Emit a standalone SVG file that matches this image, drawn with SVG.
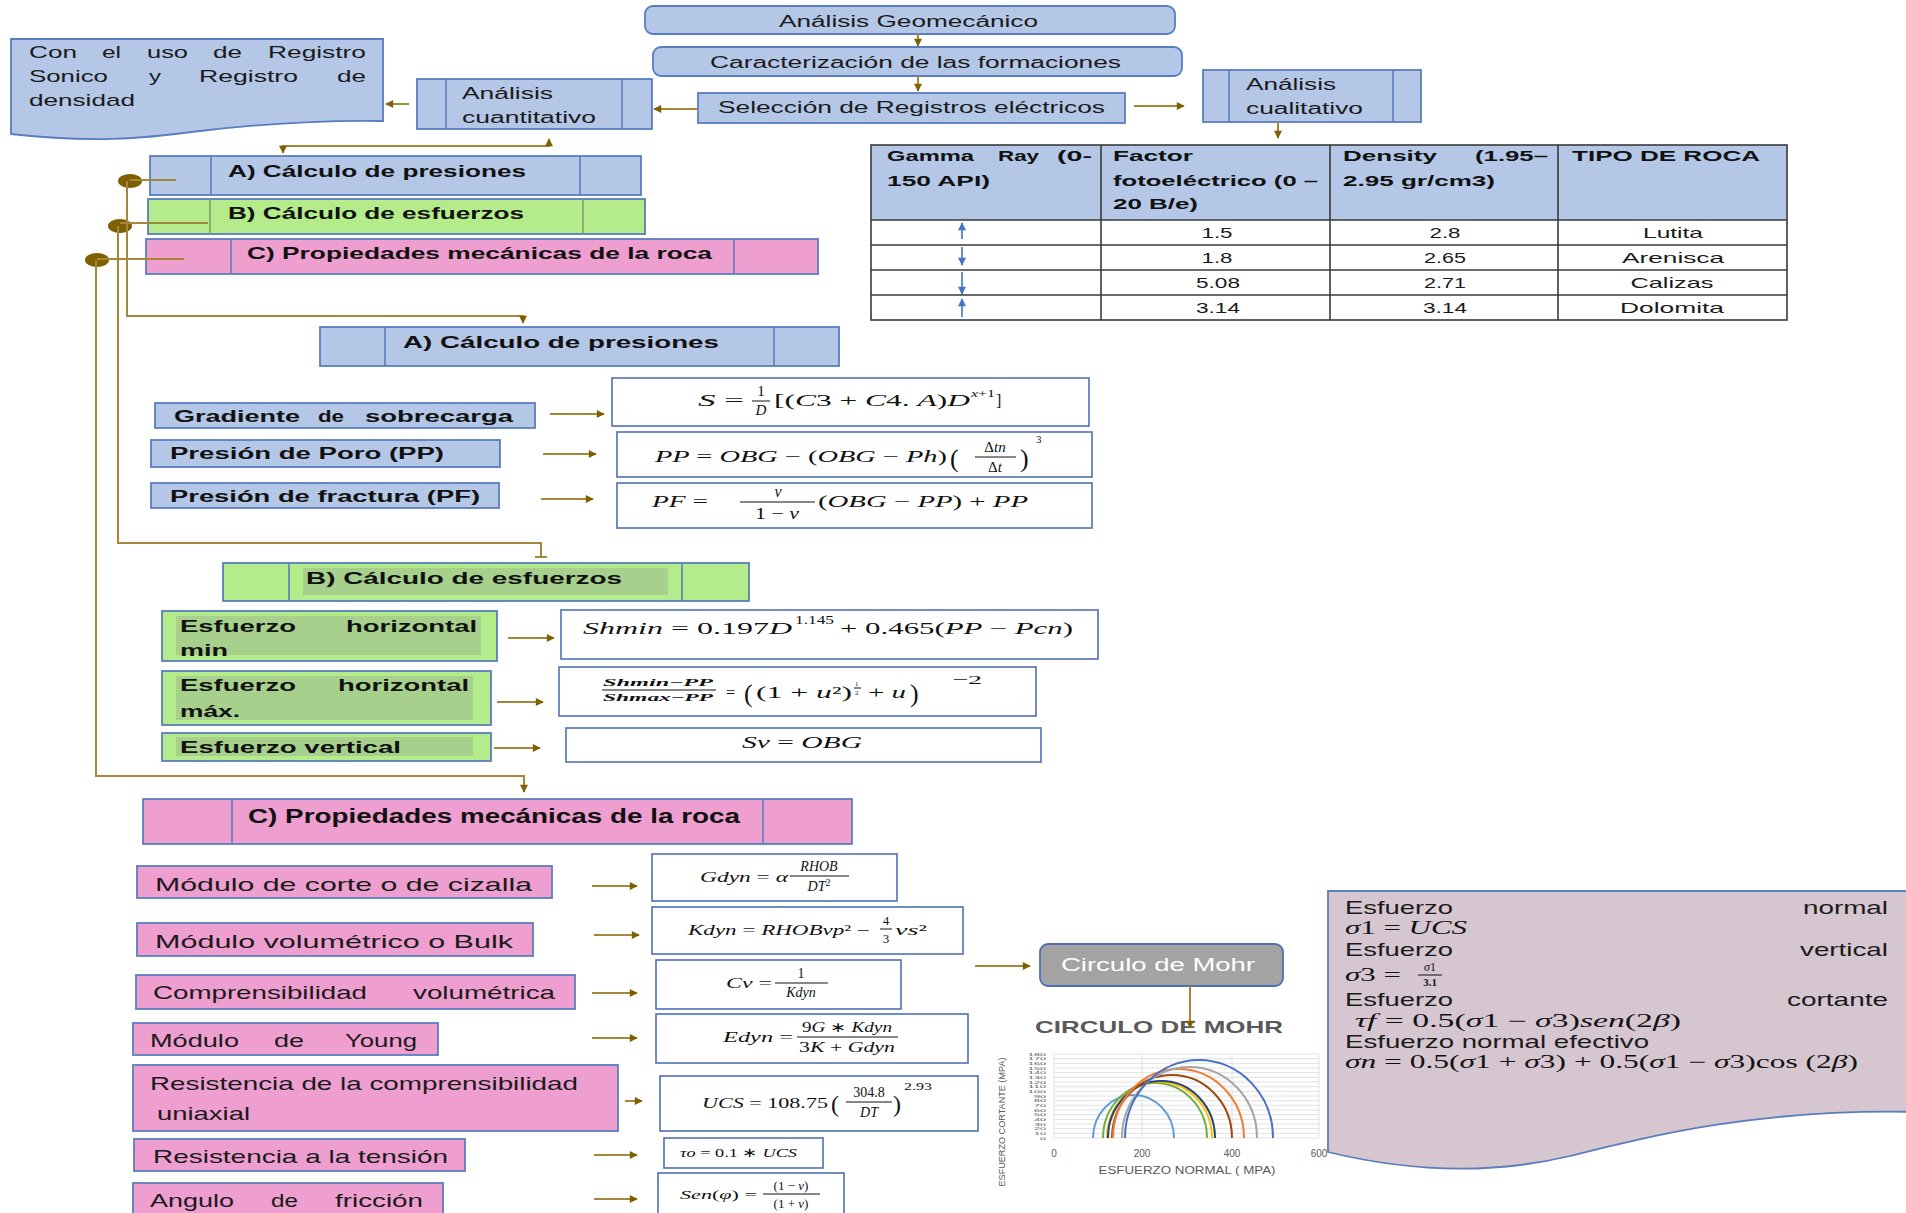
<svg xmlns="http://www.w3.org/2000/svg" width="1906" height="1213" viewBox="0 0 1906 1213" font-size="15">
<style>
.bb{fill:#b4c7e7;stroke:#5a7dbf;stroke-width:1.8}
.gb{fill:#b4eb8b;stroke:#5a7dbf;stroke-width:1.8}
.gh{fill:#a8d08d;stroke:none}
.pb{fill:#ee9fd0;stroke:#5a7dbf;stroke-width:1.8}
.fb{fill:#ffffff;stroke:#4f6fb5;stroke-width:1.6}
.sep{stroke:#5a7dbf;stroke-width:1.6}
.t{font-family:"Liberation Sans",Arial,sans-serif;fill:#1a1a1a;dominant-baseline:central}
.tb{font-family:"Liberation Sans",Arial,sans-serif;font-weight:bold;fill:#111;dominant-baseline:central}
.m{font-family:"Liberation Serif","Times New Roman",serif;font-style:italic;fill:#111}
.u{font-style:normal}
.c{stroke:#a5873a;stroke-width:2;fill:none}
.fl{stroke:#111;stroke-width:1}
.grid{stroke:#dedede;stroke-width:0.9}
.ax{font-family:"Liberation Sans",Arial,sans-serif;fill:#595959}
.arc{fill:none;stroke-width:2}
</style>
<defs>
<marker id="ah" viewBox="0 0 10 10" refX="9" refY="5" markerWidth="9" markerHeight="8" markerUnits="userSpaceOnUse" orient="auto-start-reverse">
<path d="M0,0 L10,5 L0,10 Z" fill="#7f6000"/>
</marker>
<marker id="ab" viewBox="0 0 10 10" refX="9" refY="5" markerWidth="9" markerHeight="8" markerUnits="userSpaceOnUse" orient="auto">
<path d="M0,0 L10,5 L0,10 Z" fill="#4472c4"/>
</marker>
</defs>

<!-- Top flow -->
<g id="n-geomecanico">
<rect x="645" y="6" width="530" height="28" rx="8" class="bb"/>
<text class="t" font-size="16" x="779" y="21" textLength="259" lengthAdjust="spacingAndGlyphs">Análisis Geomecánico</text>
</g>
<g id="n-caracterizacion">
<rect x="653" y="47" width="529" height="29" rx="8" class="bb"/>
<text class="t" font-size="16" x="710" y="62" textLength="411" lengthAdjust="spacingAndGlyphs">Caracterización de las formaciones</text>
</g>
<g id="n-seleccion">
<rect x="698" y="93" width="427" height="30" class="bb"/>
<text class="t" font-size="16" x="718" y="107" textLength="387" lengthAdjust="spacingAndGlyphs">Selección de Registros eléctricos</text>
</g>
<g id="n-cualitativo">
<rect x="1203" y="70" width="218" height="52" class="bb"/>
<line x1="1229" y1="70" x2="1229" y2="122" class="sep"/>
<line x1="1393" y1="70" x2="1393" y2="122" class="sep"/>
<text class="t" font-size="16" x="1246" y="84" textLength="90" lengthAdjust="spacingAndGlyphs">Análisis</text>
<text class="t" font-size="16" x="1246" y="108" textLength="117" lengthAdjust="spacingAndGlyphs">cualitativo</text>
</g>
<g id="n-cuantitativo">
<rect x="417" y="79" width="235" height="50" class="bb"/>
<line x1="446" y1="79" x2="446" y2="129" class="sep"/>
<line x1="622" y1="79" x2="622" y2="129" class="sep"/>
<text class="t" font-size="16" x="462" y="93" textLength="91" lengthAdjust="spacingAndGlyphs">Análisis</text>
<text class="t" font-size="16" x="462" y="117" textLength="134" lengthAdjust="spacingAndGlyphs">cuantitativo</text>
</g>
<g id="n-registro-doc" font-size="17">
<path d="M11,39 H383 V121 C320,120 260,124 200,131 C140,139 90,143 11,134 Z" class="bb"/>
<text class="t" x="29" y="52" textLength="48" lengthAdjust="spacingAndGlyphs">Con</text>
<text class="t" x="102" y="52" textLength="19" lengthAdjust="spacingAndGlyphs">el</text>
<text class="t" x="147" y="52" textLength="41" lengthAdjust="spacingAndGlyphs">uso</text>
<text class="t" x="213" y="52" textLength="29" lengthAdjust="spacingAndGlyphs">de</text>
<text class="t" x="268" y="52" textLength="98" lengthAdjust="spacingAndGlyphs">Registro</text>
<text class="t" x="29" y="76" textLength="79" lengthAdjust="spacingAndGlyphs">Sonico</text>
<text class="t" x="149" y="76" textLength="12" lengthAdjust="spacingAndGlyphs">y</text>
<text class="t" x="199" y="76" textLength="99" lengthAdjust="spacingAndGlyphs">Registro</text>
<text class="t" x="337" y="76" textLength="29" lengthAdjust="spacingAndGlyphs">de</text>
<text class="t" x="29" y="100" textLength="106" lengthAdjust="spacingAndGlyphs">densidad</text>
</g>

<!-- Table -->
<g id="n-tabla">
<rect x="871" y="145" width="916" height="75" fill="#b4c7e7"/>
<rect x="871" y="220" width="916" height="100" fill="#ffffff"/>
<g stroke="#3a3a3a" stroke-width="1.6" fill="none">
<rect x="871" y="145" width="916" height="175"/>
<line x1="1101" y1="145" x2="1101" y2="320"/>
<line x1="1330" y1="145" x2="1330" y2="320"/>
<line x1="1558" y1="145" x2="1558" y2="320"/>
<line x1="871" y1="220" x2="1787" y2="220"/>
<line x1="871" y1="245" x2="1787" y2="245"/>
<line x1="871" y1="270" x2="1787" y2="270"/>
<line x1="871" y1="295" x2="1787" y2="295"/>
</g>
<g font-size="14">
<text class="tb" x="887" y="156" textLength="87" lengthAdjust="spacingAndGlyphs">Gamma</text>
<text class="tb" x="998" y="156" textLength="41" lengthAdjust="spacingAndGlyphs">Ray</text>
<text class="tb" x="1057" y="156" textLength="35" lengthAdjust="spacingAndGlyphs">(0-</text>
<text class="tb" x="887" y="181" textLength="103" lengthAdjust="spacingAndGlyphs">150 API)</text>
<text class="tb" x="1113" y="156" textLength="80" lengthAdjust="spacingAndGlyphs">Factor</text>
<text class="tb" x="1113" y="181" textLength="205" lengthAdjust="spacingAndGlyphs">fotoeléctrico (0 –</text>
<text class="tb" x="1113" y="204" textLength="85" lengthAdjust="spacingAndGlyphs">20 B/e)</text>
<text class="tb" x="1343" y="156" textLength="94" lengthAdjust="spacingAndGlyphs">Density</text>
<text class="tb" x="1475" y="156" textLength="73" lengthAdjust="spacingAndGlyphs">(1.95–</text>
<text class="tb" x="1343" y="181" textLength="152" lengthAdjust="spacingAndGlyphs">2.95 gr/cm3)</text>
<text class="tb" x="1572" y="156" textLength="188" lengthAdjust="spacingAndGlyphs">TIPO DE ROCA</text>
</g>
<g text-anchor="middle" font-size="15">
<text class="t" x="1217" y="232" textLength="31" lengthAdjust="spacingAndGlyphs">1.5</text>
<text class="t" x="1445" y="232" textLength="31" lengthAdjust="spacingAndGlyphs">2.8</text>
<text class="t" x="1673" y="232" textLength="60" lengthAdjust="spacingAndGlyphs">Lutita</text>
<text class="t" x="1217" y="257" textLength="31" lengthAdjust="spacingAndGlyphs">1.8</text>
<text class="t" x="1445" y="257" textLength="42" lengthAdjust="spacingAndGlyphs">2.65</text>
<text class="t" x="1673" y="257" textLength="102" lengthAdjust="spacingAndGlyphs">Arenisca</text>
<text class="t" x="1218" y="282" textLength="44" lengthAdjust="spacingAndGlyphs">5.08</text>
<text class="t" x="1445" y="282" textLength="42" lengthAdjust="spacingAndGlyphs">2.71</text>
<text class="t" x="1672" y="282" textLength="83" lengthAdjust="spacingAndGlyphs">Calizas</text>
<text class="t" x="1218" y="307" textLength="44" lengthAdjust="spacingAndGlyphs">3.14</text>
<text class="t" x="1445" y="307" textLength="44" lengthAdjust="spacingAndGlyphs">3.14</text>
<text class="t" x="1672" y="307" textLength="104" lengthAdjust="spacingAndGlyphs">Dolomita</text>
</g>
<g stroke="#4472c4" stroke-width="1.6">
<line x1="962" y1="239" x2="962" y2="223" marker-end="url(#ab)"/>
<line x1="962" y1="247" x2="962" y2="265" marker-end="url(#ab)"/>
<line x1="962" y1="272" x2="962" y2="294" marker-end="url(#ab)"/>
<line x1="962" y1="317" x2="962" y2="299" marker-end="url(#ab)"/>
</g>
</g>

<!-- Top A/B/C bars -->
<g id="n-a-top">
<rect x="150" y="156" width="491" height="39" class="bb"/>
<line x1="211" y1="156" x2="211" y2="195" class="sep"/>
<line x1="580" y1="156" x2="580" y2="195" class="sep"/>
<text class="tb" font-size="17" x="228" y="171" textLength="298" lengthAdjust="spacingAndGlyphs">A) Cálculo de presiones</text>
</g>
<g id="n-b-top">
<rect x="148" y="199" width="497" height="35" class="gb"/>
<line x1="210" y1="199" x2="210" y2="234" class="sep" style="stroke:#7da36a"/>
<line x1="583" y1="199" x2="583" y2="234" class="sep" style="stroke:#7da36a"/>
<text class="tb" font-size="17" x="228" y="213" textLength="296" lengthAdjust="spacingAndGlyphs">B) Cálculo de esfuerzos</text>
</g>
<g id="n-c-top">
<rect x="146" y="239" width="672" height="35" class="pb"/>
<line x1="231" y1="239" x2="231" y2="274" class="sep"/>
<line x1="734" y1="239" x2="734" y2="274" class="sep"/>
<text class="tb" font-size="17" x="247" y="253" textLength="465" lengthAdjust="spacingAndGlyphs">C) Propiedades mecánicas de la roca</text>
</g>

<!-- A detail -->
<g id="n-a-detalle">
<rect x="320" y="327" width="519" height="39" class="bb"/>
<line x1="385" y1="327" x2="385" y2="366" class="sep"/>
<line x1="774" y1="327" x2="774" y2="366" class="sep"/>
<text class="tb" font-size="17" x="403" y="342" textLength="316" lengthAdjust="spacingAndGlyphs">A) Cálculo de presiones</text>
</g>
<g id="n-gradiente" font-size="16">
<rect x="155" y="403" width="380" height="25" class="bb"/>
<text class="tb" x="174" y="416" textLength="126" lengthAdjust="spacingAndGlyphs">Gradiente</text>
<text class="tb" x="318" y="416" textLength="26" lengthAdjust="spacingAndGlyphs">de</text>
<text class="tb" x="365" y="416" textLength="148" lengthAdjust="spacingAndGlyphs">sobrecarga</text>
</g>
<g id="n-poro" font-size="16">
<rect x="151" y="440" width="349" height="27" class="bb"/>
<text class="tb" x="170" y="453" textLength="274" lengthAdjust="spacingAndGlyphs">Presión de Poro (PP)</text>
</g>
<g id="n-fractura" font-size="16">
<rect x="151" y="483" width="348" height="25" class="bb"/>
<text class="tb" x="170" y="496" textLength="310" lengthAdjust="spacingAndGlyphs">Presión de fractura (PF)</text>
</g>
<g id="f-s" font-size="16">
<rect x="612" y="378" width="477" height="48" class="fb"/>
<text class="m" x="698" y="406" textLength="46" lengthAdjust="spacingAndGlyphs">S <tspan class="u">=</tspan></text>
<text class="m u" x="761" y="396" text-anchor="middle" font-size="15">1</text>
<line x1="752" y1="401" x2="770" y2="401" class="fl"/>
<text class="m" x="761" y="415" text-anchor="middle" font-size="15">D</text>
<text class="m" x="774" y="406" textLength="196" lengthAdjust="spacingAndGlyphs"><tspan class="u">[(</tspan>C<tspan class="u">3 + </tspan>C<tspan class="u">4. </tspan>A<tspan class="u">)</tspan>D</text>
<text class="m" x="971" y="397" font-size="11" textLength="24" lengthAdjust="spacingAndGlyphs">x<tspan class="u">+1</tspan></text>
<text class="m u" x="996" y="406">]</text>
</g>
<g id="f-pp" font-size="16">
<rect x="617" y="432" width="475" height="45" class="fb"/>
<text class="m" x="655" y="462" textLength="292" lengthAdjust="spacingAndGlyphs">PP <tspan class="u">=</tspan> OBG <tspan class="u">− (</tspan>OBG <tspan class="u">−</tspan> Ph<tspan class="u">)</tspan></text>
<text class="m u" x="950" y="467" font-size="26">(</text>
<text class="m" x="995" y="452" text-anchor="middle" font-size="15"><tspan class="u">Δ</tspan>tn</text>
<line x1="975" y1="457" x2="1016" y2="457" class="fl"/>
<text class="m" x="995" y="472" text-anchor="middle" font-size="15"><tspan class="u">Δ</tspan>t</text>
<text class="m u" x="1020" y="467" font-size="26">)</text>
<text class="m u" x="1036" y="443" font-size="11">3</text>
</g>
<g id="f-pf" font-size="16">
<rect x="617" y="483" width="475" height="45" class="fb"/>
<text class="m" x="652" y="507" textLength="56" lengthAdjust="spacingAndGlyphs">PF <tspan class="u">=</tspan></text>
<text class="m" x="778" y="497" text-anchor="middle">v</text>
<line x1="740" y1="502" x2="815" y2="502" class="fl"/>
<text class="m" x="777" y="519" text-anchor="middle" textLength="44" lengthAdjust="spacingAndGlyphs"><tspan class="u">1 − </tspan>v</text>
<text class="m" x="818" y="507" textLength="210" lengthAdjust="spacingAndGlyphs"><tspan class="u">(</tspan>OBG <tspan class="u">−</tspan> PP<tspan class="u">) + </tspan>PP</text>
</g>

<!-- B detail -->
<g id="n-b-detalle">
<rect x="223" y="563" width="526" height="38" class="gb"/>
<rect x="303" y="568" width="365" height="27" class="gh"/>
<line x1="289" y1="563" x2="289" y2="601" class="sep"/>
<line x1="682" y1="563" x2="682" y2="601" class="sep"/>
<text class="tb" font-size="17" x="306" y="578" textLength="316" lengthAdjust="spacingAndGlyphs">B) Cálculo de esfuerzos</text>
</g>
<g id="n-hmin" font-size="17">
<rect x="162" y="611" width="335" height="50" class="gb"/>
<rect x="176" y="616" width="305" height="39" class="gh"/>
<text class="tb" x="180" y="626" textLength="116" lengthAdjust="spacingAndGlyphs">Esfuerzo</text>
<text class="tb" x="346" y="626" textLength="131" lengthAdjust="spacingAndGlyphs">horizontal</text>
<text class="tb" x="180" y="650" textLength="48" lengthAdjust="spacingAndGlyphs">min</text>
</g>
<g id="n-hmax" font-size="17">
<rect x="162" y="671" width="329" height="54" class="gb"/>
<rect x="176" y="676" width="297" height="44" class="gh"/>
<text class="tb" x="180" y="685" textLength="116" lengthAdjust="spacingAndGlyphs">Esfuerzo</text>
<text class="tb" x="338" y="685" textLength="131" lengthAdjust="spacingAndGlyphs">horizontal</text>
<text class="tb" x="180" y="711" textLength="60" lengthAdjust="spacingAndGlyphs">máx.</text>
</g>
<g id="n-vertical" font-size="17">
<rect x="162" y="733" width="329" height="28" class="gb"/>
<rect x="176" y="737" width="297" height="19" class="gh"/>
<text class="tb" x="180" y="747" textLength="221" lengthAdjust="spacingAndGlyphs">Esfuerzo vertical</text>
</g>
<g id="f-shmin" font-size="17">
<rect x="561" y="610" width="537" height="49" class="fb"/>
<text class="m" x="583" y="634" textLength="209" lengthAdjust="spacingAndGlyphs">Shmin <tspan class="u">= 0.197</tspan>D</text>
<text class="m u" x="795" y="624" font-size="12" textLength="39" lengthAdjust="spacingAndGlyphs">1.145</text>
<text class="m" x="840" y="634" textLength="233" lengthAdjust="spacingAndGlyphs"><tspan class="u">+ 0.465(</tspan>PP <tspan class="u">−</tspan> Pcn<tspan class="u">)</tspan></text>
</g>
<g id="f-ratio" font-size="16">
<rect x="559" y="667" width="477" height="49" class="fb"/>
<text class="m" x="658" y="686" text-anchor="middle" font-size="11" font-weight="bold" textLength="110" lengthAdjust="spacingAndGlyphs">Shmin<tspan class="u">−</tspan>PP</text>
<line x1="602" y1="690" x2="716" y2="690" class="fl"/>
<text class="m" x="658" y="701" text-anchor="middle" font-size="11" font-weight="bold" textLength="110" lengthAdjust="spacingAndGlyphs">Shmax<tspan class="u">−</tspan>PP</text>
<text class="m u" x="726" y="698">=</text>
<text class="m u" x="744" y="702" font-size="26">(</text>
<text class="m" x="756" y="698" textLength="96" lengthAdjust="spacingAndGlyphs"><tspan class="u">(1 + </tspan>u<tspan class="u">²)</tspan></text>
<text class="m u" x="855" y="686" font-size="7">1</text>
<line x1="854" y1="688" x2="861" y2="688" class="fl" stroke-width="0.6"/>
<text class="m u" x="855" y="695" font-size="7">2</text>
<text class="m" x="868" y="698" textLength="38" lengthAdjust="spacingAndGlyphs"><tspan class="u">+ </tspan>u</text>
<text class="m u" x="910" y="702" font-size="26">)</text>
<text class="m u" x="952" y="684" font-size="13" textLength="30" lengthAdjust="spacingAndGlyphs">−2</text>
</g>
<g id="f-sv" font-size="16">
<rect x="566" y="728" width="475" height="34" class="fb"/>
<text class="m" x="802" y="748" text-anchor="middle" textLength="120" lengthAdjust="spacingAndGlyphs">Sv <tspan class="u">=</tspan> OBG</text>
</g>

<!-- C detail -->
<g id="n-c-detalle">
<rect x="143" y="799" width="709" height="45" class="pb"/>
<line x1="232" y1="799" x2="232" y2="844" class="sep"/>
<line x1="763" y1="799" x2="763" y2="844" class="sep"/>
<text class="tb" font-size="20" x="248" y="816" textLength="492" lengthAdjust="spacingAndGlyphs">C) Propiedades mecánicas de la roca</text>
</g>
<g id="n-corte" font-size="19">
<rect x="137" y="866" width="415" height="32" class="pb"/>
<text class="t" x="155" y="884" textLength="377" lengthAdjust="spacingAndGlyphs">Módulo  de  corte  o  de  cizalla</text>
</g>
<g id="n-bulk" font-size="19">
<rect x="137" y="923" width="396" height="33" class="pb"/>
<text class="t" x="155" y="941" textLength="358" lengthAdjust="spacingAndGlyphs">Módulo  volumétrico  o  Bulk</text>
</g>
<g id="n-compresibilidad" font-size="19">
<rect x="136" y="975" width="439" height="34" class="pb"/>
<text class="t" x="153" y="992" textLength="214" lengthAdjust="spacingAndGlyphs">Comprensibilidad</text>
<text class="t" x="413" y="992" textLength="142" lengthAdjust="spacingAndGlyphs">volumétrica</text>
</g>
<g id="n-young" font-size="19">
<rect x="133" y="1023" width="305" height="32" class="pb"/>
<text class="t" x="150" y="1040" textLength="89" lengthAdjust="spacingAndGlyphs">Módulo</text>
<text class="t" x="274" y="1040" textLength="30" lengthAdjust="spacingAndGlyphs">de</text>
<text class="t" x="345" y="1040" textLength="72" lengthAdjust="spacingAndGlyphs">Young</text>
</g>
<g id="n-ucs" font-size="19">
<rect x="133" y="1065" width="485" height="66" class="pb"/>
<text class="t" x="150" y="1083" textLength="428" lengthAdjust="spacingAndGlyphs">Resistencia de la comprensibilidad</text>
<text class="t" x="157" y="1113" textLength="93" lengthAdjust="spacingAndGlyphs">uniaxial</text>
</g>
<g id="n-tension" font-size="19">
<rect x="134" y="1139" width="331" height="32" class="pb"/>
<text class="t" x="153" y="1156" textLength="295" lengthAdjust="spacingAndGlyphs">Resistencia a la tensión</text>
</g>
<g id="n-friccion" font-size="19">
<rect x="133" y="1183" width="310" height="40" class="pb"/>
<text class="t" x="150" y="1200" textLength="84" lengthAdjust="spacingAndGlyphs">Angulo</text>
<text class="t" x="271" y="1200" textLength="27" lengthAdjust="spacingAndGlyphs">de</text>
<text class="t" x="335" y="1200" textLength="88" lengthAdjust="spacingAndGlyphs">fricción</text>
</g>
<g id="f-gdyn" font-size="14">
<rect x="652" y="854" width="245" height="47" class="fb"/>
<text class="m" x="700" y="882" textLength="88" lengthAdjust="spacingAndGlyphs">Gdyn <tspan class="u">=</tspan> α</text>
<text class="m" x="819" y="871" text-anchor="middle">RHOB</text>
<line x1="790" y1="876" x2="849" y2="876" class="fl"/>
<text class="m" x="819" y="891" text-anchor="middle">DT<tspan class="u" font-size="10" dy="-5">2</tspan></text>
</g>
<g id="f-kdyn" font-size="14">
<rect x="652" y="907" width="311" height="47" class="fb"/>
<text class="m" x="688" y="935" textLength="182" lengthAdjust="spacingAndGlyphs">Kdyn <tspan class="u">=</tspan> RHOBvp<tspan class="u">² −</tspan></text>
<text class="m u" x="886" y="925" text-anchor="middle" font-size="13">4</text>
<line x1="880" y1="929" x2="892" y2="929" class="fl"/>
<text class="m u" x="886" y="943" text-anchor="middle" font-size="13">3</text>
<text class="m" x="895" y="935" textLength="32" lengthAdjust="spacingAndGlyphs">vs<tspan class="u">²</tspan></text>
</g>
<g id="f-cv" font-size="14">
<rect x="656" y="960" width="245" height="49" class="fb"/>
<text class="m" x="726" y="988" textLength="46" lengthAdjust="spacingAndGlyphs">Cv <tspan class="u">=</tspan></text>
<text class="m u" x="801" y="978" text-anchor="middle">1</text>
<line x1="775" y1="983" x2="828" y2="983" class="fl"/>
<text class="m" x="801" y="997" text-anchor="middle">Kdyn</text>
</g>
<g id="f-edyn" font-size="14">
<rect x="656" y="1014" width="312" height="49" class="fb"/>
<text class="m" x="723" y="1042" textLength="70" lengthAdjust="spacingAndGlyphs">Edyn <tspan class="u">=</tspan></text>
<text class="m" x="847" y="1032" text-anchor="middle" textLength="90" lengthAdjust="spacingAndGlyphs"><tspan class="u">9</tspan>G <tspan class="u">∗</tspan> Kdyn</text>
<line x1="797" y1="1037" x2="898" y2="1037" class="fl"/>
<text class="m" x="847" y="1052" text-anchor="middle" textLength="96" lengthAdjust="spacingAndGlyphs"><tspan class="u">3</tspan>K <tspan class="u">+</tspan> Gdyn</text>
</g>
<g id="f-ucs" font-size="14">
<rect x="660" y="1076" width="318" height="55" class="fb"/>
<text class="m" x="702" y="1108" textLength="126" lengthAdjust="spacingAndGlyphs">UCS <tspan class="u">= 108.75</tspan></text>
<text class="m u" x="831" y="1112" font-size="24">(</text>
<text class="m u" x="869" y="1097" text-anchor="middle">304.8</text>
<line x1="846" y1="1102" x2="892" y2="1102" class="fl"/>
<text class="m" x="869" y="1117" text-anchor="middle">DT</text>
<text class="m u" x="893" y="1112" font-size="24">)</text>
<text class="m u" x="904" y="1090" font-size="10" textLength="28" lengthAdjust="spacingAndGlyphs">2.93</text>
</g>
<g id="f-tau" font-size="13">
<rect x="664" y="1138" width="159" height="30" class="fb"/>
<text class="m" x="680" y="1157" textLength="117" lengthAdjust="spacingAndGlyphs">τo <tspan class="u">= 0.1 ∗</tspan> UCS</text>
</g>
<g id="f-sen" font-size="13">
<rect x="658" y="1173" width="186" height="50" class="fb"/>
<text class="m" x="680" y="1199" textLength="77" lengthAdjust="spacingAndGlyphs">Sen<tspan class="u">(</tspan>φ<tspan class="u">) =</tspan></text>
<text class="m" x="791" y="1190" text-anchor="middle"><tspan class="u">(1 − </tspan>v<tspan class="u">)</tspan></text>
<line x1="763" y1="1194" x2="820" y2="1194" class="fl"/>
<text class="m" x="791" y="1208" text-anchor="middle"><tspan class="u">(1 + </tspan>v<tspan class="u">)</tspan></text>
</g>

<!-- Mohr -->
<g id="n-circulo-mohr">
<rect x="1040" y="944" width="243" height="42" rx="8" fill="#a3a3a3" stroke="#4f6fb5" stroke-width="1.8"/>
<text class="t" font-size="18" style="fill:#ffffff" x="1061" y="965" textLength="194" lengthAdjust="spacingAndGlyphs">Circulo de Mohr</text>
</g>
<g id="n-grafico">
<text x="1035" y="1027" font-family="'Liberation Sans',Arial,sans-serif" font-weight="bold" font-size="17" fill="#595959" dominant-baseline="central" textLength="248" lengthAdjust="spacingAndGlyphs">CIRCULO DE MOHR</text>
<g class="grid">
<line x1="1054" y1="1138" x2="1319" y2="1138"/>
<line x1="1054" y1="1133.3" x2="1319" y2="1133.3"/>
<line x1="1054" y1="1128.7" x2="1319" y2="1128.7"/>
<line x1="1054" y1="1124" x2="1319" y2="1124"/>
<line x1="1054" y1="1119.3" x2="1319" y2="1119.3"/>
<line x1="1054" y1="1114.7" x2="1319" y2="1114.7"/>
<line x1="1054" y1="1110" x2="1319" y2="1110"/>
<line x1="1054" y1="1105.3" x2="1319" y2="1105.3"/>
<line x1="1054" y1="1100.7" x2="1319" y2="1100.7"/>
<line x1="1054" y1="1096" x2="1319" y2="1096"/>
<line x1="1054" y1="1091.3" x2="1319" y2="1091.3"/>
<line x1="1054" y1="1086.7" x2="1319" y2="1086.7"/>
<line x1="1054" y1="1082" x2="1319" y2="1082"/>
<line x1="1054" y1="1077.3" x2="1319" y2="1077.3"/>
<line x1="1054" y1="1072.7" x2="1319" y2="1072.7"/>
<line x1="1054" y1="1068" x2="1319" y2="1068"/>
<line x1="1054" y1="1063.3" x2="1319" y2="1063.3"/>
<line x1="1054" y1="1058.7" x2="1319" y2="1058.7"/>
<line x1="1054" y1="1054" x2="1319" y2="1054"/>
<line x1="1054" y1="1054" x2="1054" y2="1138"/>
<line x1="1142" y1="1054" x2="1142" y2="1138"/>
<line x1="1232" y1="1054" x2="1232" y2="1138"/>
<line x1="1319" y1="1054" x2="1319" y2="1138"/>
</g>
<g class="ax" font-size="4.4" text-anchor="end">
<text x="1046" y="1139.5" textLength="6" lengthAdjust="spacingAndGlyphs">0</text>
<text x="1046" y="1134.8" textLength="12" lengthAdjust="spacingAndGlyphs">10</text>
<text x="1046" y="1130.2" textLength="12" lengthAdjust="spacingAndGlyphs">20</text>
<text x="1046" y="1125.5" textLength="12" lengthAdjust="spacingAndGlyphs">30</text>
<text x="1046" y="1120.8" textLength="12" lengthAdjust="spacingAndGlyphs">40</text>
<text x="1046" y="1116.2" textLength="12" lengthAdjust="spacingAndGlyphs">50</text>
<text x="1046" y="1111.5" textLength="12" lengthAdjust="spacingAndGlyphs">60</text>
<text x="1046" y="1106.8" textLength="12" lengthAdjust="spacingAndGlyphs">70</text>
<text x="1046" y="1102.2" textLength="12" lengthAdjust="spacingAndGlyphs">80</text>
<text x="1046" y="1097.5" textLength="12" lengthAdjust="spacingAndGlyphs">90</text>
<text x="1046" y="1092.8" textLength="18" lengthAdjust="spacingAndGlyphs">100</text>
<text x="1046" y="1088.2" textLength="18" lengthAdjust="spacingAndGlyphs">110</text>
<text x="1046" y="1083.5" textLength="18" lengthAdjust="spacingAndGlyphs">120</text>
<text x="1046" y="1078.8" textLength="18" lengthAdjust="spacingAndGlyphs">130</text>
<text x="1046" y="1074.2" textLength="18" lengthAdjust="spacingAndGlyphs">140</text>
<text x="1046" y="1069.5" textLength="18" lengthAdjust="spacingAndGlyphs">150</text>
<text x="1046" y="1064.8" textLength="18" lengthAdjust="spacingAndGlyphs">160</text>
<text x="1046" y="1060.2" textLength="18" lengthAdjust="spacingAndGlyphs">170</text>
<text x="1046" y="1055.5" textLength="18" lengthAdjust="spacingAndGlyphs">180</text>
</g>
<g class="ax" font-size="10" text-anchor="middle">
<text x="1054" y="1157">0</text>
<text x="1142" y="1157">200</text>
<text x="1232" y="1157">400</text>
<text x="1319" y="1157">600</text>
<text x="1187" y="1174" textLength="177" lengthAdjust="spacingAndGlyphs">ESFUERZO NORMAL ( MPA)</text>
<text x="0" y="0" font-size="9" transform="translate(1005,1122) rotate(-90)" textLength="129" lengthAdjust="spacingAndGlyphs">ESFUERZO CORTANTE (MPA)</text>
</g>
<path class="arc" stroke="#5b9bd5" d="M1093,1138 A40.5,43 0 0 1 1174,1138"/>
<path class="arc" stroke="#70ad47" d="M1103,1138 A52,55 0 0 1 1207,1138"/>
<path class="arc" stroke="#ffc000" d="M1107,1138 A52.5,56 0 0 1 1212,1138"/>
<path class="arc" stroke="#264478" d="M1108,1138 A53.5,57 0 0 1 1215,1138"/>
<path class="arc" stroke="#9e480e" d="M1112,1138 A60,63 0 0 1 1232,1138"/>
<path class="arc" stroke="#ed7d31" d="M1113,1138 A65.5,69 0 0 1 1244,1138"/>
<path class="arc" stroke="#a5a5a5" d="M1122,1138 A67.5,71 0 0 1 1257,1138"/>
<path class="arc" stroke="#4472c4" d="M1125,1138 A74,78 0 0 1 1273,1138"/>
</g>
<g id="n-esfuerzos-doc">
<path d="M1328,891 H1920 V1112 C1760,1108 1650,1136 1570,1156 C1490,1175 1410,1172 1328,1152 Z" fill="#d6c6cf" stroke="#5a7dbf" stroke-width="1.8"/>
<g font-size="19">
<text class="t" x="1345" y="907" textLength="108" lengthAdjust="spacingAndGlyphs">Esfuerzo</text>
<text class="t" x="1803" y="907" textLength="85" lengthAdjust="spacingAndGlyphs">normal</text>
<text class="t" x="1345" y="949" textLength="108" lengthAdjust="spacingAndGlyphs">Esfuerzo</text>
<text class="t" x="1800" y="949" textLength="88" lengthAdjust="spacingAndGlyphs">vertical</text>
<text class="t" x="1345" y="999" textLength="108" lengthAdjust="spacingAndGlyphs">Esfuerzo</text>
<text class="t" x="1787" y="999" textLength="101" lengthAdjust="spacingAndGlyphs">cortante</text>
<text class="t" x="1345" y="1041" textLength="304" lengthAdjust="spacingAndGlyphs">Esfuerzo normal efectivo</text>
</g>
<g font-size="18">
<text class="m" x="1345" y="934" textLength="122" lengthAdjust="spacingAndGlyphs">σ<tspan class="u">1 = </tspan> UCS</text>
<text class="m" x="1345" y="981" textLength="56" lengthAdjust="spacingAndGlyphs">σ<tspan class="u">3 =</tspan></text>
<text class="m" x="1430" y="971" text-anchor="middle" font-size="12">σ<tspan class="u">1</tspan></text>
<line x1="1418" y1="975" x2="1442" y2="975" class="fl"/>
<text class="m u" x="1430" y="986" text-anchor="middle" font-size="11" font-weight="bold">3.1</text>
<text class="m" x="1355" y="1027" textLength="326" lengthAdjust="spacingAndGlyphs">τf <tspan class="u">=  0.5(</tspan>σ<tspan class="u">1 − </tspan>σ<tspan class="u">3)</tspan>sen<tspan class="u">(2</tspan>β<tspan class="u">)</tspan></text>
<text class="m" x="1345" y="1068" textLength="513" lengthAdjust="spacingAndGlyphs">σn <tspan class="u">= 0.5(</tspan>σ<tspan class="u">1 + </tspan>σ<tspan class="u">3) + 0.5(</tspan>σ<tspan class="u">1 − </tspan>σ<tspan class="u">3)cos (2</tspan>β<tspan class="u">)</tspan></text>
</g>
</g>

<!-- Connectors -->
<g id="connectors">
<line class="c" x1="918" y1="34" x2="918" y2="46" marker-end="url(#ah)"/>
<line class="c" x1="918" y1="76" x2="918" y2="91" marker-end="url(#ah)"/>
<line class="c" x1="698" y1="109" x2="654" y2="109" marker-end="url(#ah)"/>
<line class="c" x1="1134" y1="106" x2="1184" y2="106" marker-end="url(#ah)"/>
<line class="c" x1="409" y1="104" x2="386" y2="104" marker-end="url(#ah)"/>
<line class="c" x1="1278" y1="122" x2="1278" y2="138" marker-end="url(#ah)"/>
<polyline class="c" points="283,153 283,146 549,146 549,139" marker-start="url(#ah)" marker-end="url(#ah)"/>
<g fill="#7f6000">
<ellipse cx="130" cy="181" rx="12" ry="7"/>
<ellipse cx="120" cy="226" rx="12" ry="7"/>
<ellipse cx="97" cy="260" rx="12" ry="7"/>
</g>
<line class="c" x1="130" y1="180" x2="176" y2="180"/>
<line class="c" x1="120" y1="223" x2="208" y2="223"/>
<line class="c" x1="97" y1="259" x2="184" y2="259"/>
<polyline class="c" points="127,181 127,316 523,316 523,323" marker-end="url(#ah)"/>
<polyline class="c" points="118,226 118,543 541,543 541,557"/>
<line class="c" x1="535" y1="557" x2="547" y2="557"/>
<polyline class="c" points="96,260 96,776 524,776 524,792" marker-end="url(#ah)"/>
<line class="c" x1="550" y1="414" x2="604" y2="414" marker-end="url(#ah)"/>
<line class="c" x1="543" y1="454" x2="596" y2="454" marker-end="url(#ah)"/>
<line class="c" x1="541" y1="499" x2="593" y2="499" marker-end="url(#ah)"/>
<line class="c" x1="508" y1="638" x2="554" y2="638" marker-end="url(#ah)"/>
<line class="c" x1="497" y1="702" x2="543" y2="702" marker-end="url(#ah)"/>
<line class="c" x1="494" y1="748" x2="540" y2="748" marker-end="url(#ah)"/>
<line class="c" x1="592" y1="886" x2="637" y2="886" marker-end="url(#ah)"/>
<line class="c" x1="594" y1="935" x2="639" y2="935" marker-end="url(#ah)"/>
<line class="c" x1="592" y1="993" x2="637" y2="993" marker-end="url(#ah)"/>
<line class="c" x1="592" y1="1038" x2="637" y2="1038" marker-end="url(#ah)"/>
<line class="c" x1="625" y1="1101" x2="642" y2="1101" marker-end="url(#ah)"/>
<line class="c" x1="594" y1="1155" x2="637" y2="1155" marker-end="url(#ah)"/>
<line class="c" x1="594" y1="1199" x2="637" y2="1199" marker-end="url(#ah)"/>
<line class="c" x1="975" y1="966" x2="1030" y2="966" marker-end="url(#ah)"/>
<line class="c" x1="1190" y1="986" x2="1190" y2="1028" marker-end="url(#ah)"/>
</g>
</svg>
